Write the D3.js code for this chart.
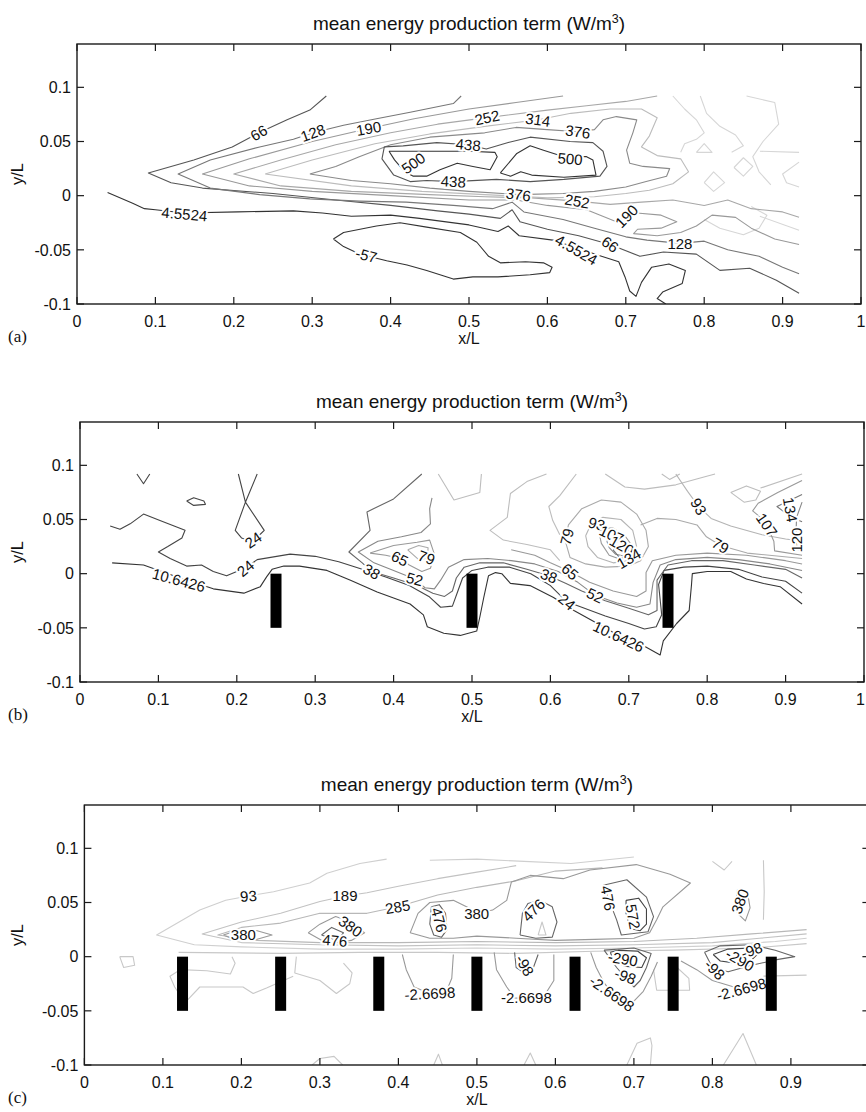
<!DOCTYPE html>
<html><head><meta charset="utf-8">
<script src="https://cdn.jsdelivr.net/npm/d3@7"></script>
<style>body{margin:0;background:#fff}svg{display:block}</style>
</head><body>
<svg id="chart" width="866" height="1112"></svg>
<script>
// ---------------- DATA ----------------
const xTicks = [0,0.1,0.2,0.3,0.4,0.5,0.6,0.7,0.8,0.9,1];
const xTickLabels = ["0","0.1","0.2","0.3","0.4","0.5","0.6","0.7","0.8","0.9","1"];
const yTicks = [-0.1,-0.05,0,0.05,0.1];
const yTickLabels = ["-0.1","-0.05","0","0.05","0.1"];
const xDomain = [0,1];
const yDomain = [-0.1,0.14];
const titleText = "mean energy production term (W/m";
const titleSup = "3";
const titleEnd = ")";
const xLabel = "x/L", yLabel = "y/L";
const panelTags = ["(a)","(b)","(c)"];
const barsB = [0.25,0.5,0.75];
const barsC = [0.125,0.25,0.375,0.5,0.625,0.75,0.875];
const barSpan = [-0.05,0];

// ---- panel (a) contours (x/L, y/L) ----
const aM57 = [[0.327,-0.040],[0.340,-0.034],[0.382,-0.028],[0.412,-0.025],[0.446,-0.029],[0.489,-0.034],[0.510,-0.043],[0.525,-0.056],[0.540,-0.062],[0.572,-0.061],[0.595,-0.062],[0.606,-0.066],[0.603,-0.071],[0.578,-0.073],[0.537,-0.075],[0.505,-0.075],[0.480,-0.077],[0.446,-0.069],[0.421,-0.064],[0.395,-0.060],[0.361,-0.054],[0.340,-0.047],[0.327,-0.040]];
const a455 = [[0.039,0.003],[0.071,-0.007],[0.086,-0.012],[0.10,-0.013],[0.137,-0.016],[0.205,-0.015],[0.276,-0.014],[0.313,-0.016],[0.35,-0.019],[0.40,-0.018],[0.437,-0.021],[0.50,-0.027],[0.537,-0.033],[0.55,-0.028],[0.564,-0.037],[0.607,-0.041],[0.637,-0.048],[0.665,-0.055],[0.691,-0.061],[0.699,-0.075],[0.705,-0.088],[0.713,-0.093],[0.72,-0.08],[0.733,-0.066],[0.755,-0.063],[0.776,-0.069],[0.772,-0.081],[0.747,-0.089],[0.740,-0.095],[0.751,-0.1]];
const a66 = [[0.318,0.092],[0.297,0.079],[0.268,0.070],[0.232,0.058],[0.198,0.045],[0.149,0.033],[0.091,0.021],[0.12,0.012],[0.16,0.007],[0.25,0.002],[0.33,-0.004],[0.40,-0.009],[0.46,-0.014],[0.50,-0.017],[0.54,-0.021],[0.555,-0.013],[0.565,-0.024],[0.60,-0.031],[0.64,-0.037],[0.68,-0.045],[0.718,-0.056],[0.748,-0.052],[0.79,-0.054],[0.82,-0.069],[0.858,-0.067],[0.892,-0.078],[0.921,-0.090]];
const a128 = [[0.49,0.092],[0.48,0.085],[0.425,0.077],[0.382,0.071],[0.340,0.065],[0.301,0.058],[0.276,0.052],[0.233,0.045],[0.170,0.033],[0.129,0.020],[0.170,0.007],[0.233,0.001],[0.297,-0.003],[0.36,-0.005],[0.42,-0.006],[0.48,-0.009],[0.53,-0.012],[0.555,-0.006],[0.57,-0.015],[0.62,-0.022],[0.66,-0.030],[0.70,-0.038],[0.727,-0.041],[0.769,-0.044],[0.80,-0.042],[0.83,-0.050],[0.87,-0.056],[0.90,-0.066],[0.921,-0.072]];
const a190 = [[0.62,0.092],[0.56,0.086],[0.50,0.080],[0.43,0.071],[0.372,0.062],[0.30,0.050],[0.22,0.034],[0.16,0.020],[0.22,0.009],[0.30,0.004],[0.40,0.000],[0.50,-0.004],[0.56,-0.004],[0.60,-0.009],[0.65,-0.013],[0.688,-0.024],[0.701,-0.019],[0.714,-0.016],[0.745,-0.018],[0.765,-0.024],[0.745,-0.030],[0.715,-0.031],[0.71,-0.035],[0.74,-0.037],[0.77,-0.034],[0.79,-0.028],[0.81,-0.018],[0.84,-0.020],[0.86,-0.030],[0.89,-0.040],[0.921,-0.045]];
const a252 = [[0.74,0.092],[0.70,0.087],[0.65,0.083],[0.60,0.079],[0.523,0.072],[0.46,0.066],[0.40,0.058],[0.33,0.047],[0.26,0.033],[0.20,0.020],[0.26,0.009],[0.35,0.004],[0.45,0.001],[0.52,-0.001],[0.58,-0.002],[0.638,-0.005],[0.68,-0.008],[0.72,-0.006],[0.76,-0.004],[0.80,-0.009],[0.83,-0.004],[0.86,-0.012],[0.90,-0.015],[0.921,-0.020]];
const a314 = [[0.24,0.020],[0.30,0.033],[0.38,0.048],[0.45,0.057],[0.52,0.064],[0.588,0.070],[0.63,0.076],[0.68,0.080],[0.72,0.080],[0.74,0.072],[0.73,0.055],[0.72,0.045],[0.74,0.037],[0.77,0.034],[0.78,0.022],[0.76,0.011],[0.73,0.005],[0.70,0.002],[0.66,-0.001],[0.60,-0.002],[0.52,0.001],[0.44,0.004],[0.35,0.009],[0.24,0.020]];
const a376 = [[0.297,0.020],[0.33,0.027],[0.36,0.036],[0.40,0.047],[0.45,0.054],[0.52,0.058],[0.56,0.063],[0.60,0.061],[0.639,0.059],[0.66,0.061],[0.671,0.070],[0.688,0.073],[0.714,0.070],[0.709,0.058],[0.701,0.042],[0.705,0.030],[0.722,0.027],[0.756,0.025],[0.752,0.018],[0.726,0.013],[0.70,0.008],[0.66,0.004],[0.62,0.002],[0.563,0.001],[0.50,0.004],[0.45,0.007],[0.40,0.011],[0.35,0.014],[0.297,0.020]];
const a438 = [[0.392,0.045],[0.416,0.046],[0.459,0.049],[0.499,0.047],[0.522,0.043],[0.550,0.049],[0.578,0.054],[0.629,0.050],[0.658,0.049],[0.671,0.041],[0.676,0.027],[0.667,0.018],[0.621,0.015],[0.578,0.013],[0.535,0.015],[0.48,0.013],[0.446,0.014],[0.425,0.013],[0.404,0.019],[0.389,0.034],[0.392,0.045]];
const a500L = [[0.398,0.041],[0.45,0.041],[0.50,0.041],[0.533,0.040],[0.536,0.036],[0.527,0.024],[0.505,0.027],[0.485,0.030],[0.463,0.024],[0.446,0.018],[0.429,0.018],[0.418,0.022],[0.405,0.033],[0.398,0.041]];
const a500R = [[0.540,0.021],[0.561,0.039],[0.578,0.046],[0.595,0.042],[0.621,0.036],[0.650,0.036],[0.658,0.033],[0.662,0.019],[0.621,0.017],[0.580,0.019],[0.566,0.022],[0.553,0.018],[0.540,0.021]];
const aL1 = [[0.795,0.092],[0.803,0.076],[0.82,0.064],[0.84,0.056],[0.85,0.046],[0.835,0.040]];
const aL2 = [[0.854,0.092],[0.89,0.086],[0.895,0.066],[0.875,0.050],[0.862,0.036],[0.87,0.022],[0.885,0.010]];
const aL3 = [[0.871,0.041],[0.921,0.040]];
const aL4 = [[0.921,0.031],[0.90,0.020],[0.905,0.012],[0.921,0.008]];
const aL5 = [[0.871,-0.019],[0.921,-0.032]];
const aL6 = [[0.80,-0.022],[0.82,-0.030],[0.85,-0.036],[0.87,-0.030],[0.88,-0.018],[0.86,-0.010]];
const aL7 = [[0.80,0.012],[0.812,0.022],[0.826,0.012],[0.812,0.004],[0.80,0.012]];
const aL8 = [[0.838,0.026],[0.85,0.035],[0.862,0.027],[0.85,0.018],[0.838,0.026]];
const aL9 = [[0.79,0.040],[0.80,0.048],[0.81,0.040],[0.79,0.040]];
const aL10 = [[0.76,0.092],[0.775,0.080],[0.79,0.070],[0.80,0.058],[0.79,0.052],[0.775,0.048],[0.77,0.040]];
const panelA = [["-57",aM57],["4.5524",a455],["66",a66],["128",a128],["190",a190],["252",a252],["314",a314],["376",a376],["438",a438],["500",a500L],["500",a500R],
  ["lite",aL1],["lite",aL2],["lite",aL3],["lite",aL4],["lite",aL5],["lite",aL6],["lite",aL7],["lite",aL8],["lite",aL9],["lite",aL10]];
const labelsA = [["66",0.232,0.058],["128",0.301,0.058],["190",0.372,0.062],["252",0.523,0.072],["314",0.588,0.070],["376",0.639,0.059],["438",0.499,0.047],["500",0.429,0.030],["500",0.629,0.034],["438",0.480,0.013],["376",0.563,0.001],["252",0.638,-0.005],["190",0.701,-0.019],["4.5524",0.137,-0.017],["4.5524",0.637,-0.050],["66",0.680,-0.045],["128",0.769,-0.044],["-57",0.369,-0.055]];

// ---- panel (b) contours ----
const b106 = [[0.041,0.010],[0.081,0.008],[0.124,-0.003],[0.17,-0.014],[0.209,-0.018],[0.23,-0.012],[0.238,-0.003],[0.245,0.004],[0.26,0.007],[0.28,0.007],[0.315,0.003],[0.345,-0.006],[0.379,-0.017],[0.421,-0.028],[0.438,-0.038],[0.443,-0.049],[0.464,-0.055],[0.485,-0.057],[0.506,-0.053],[0.510,-0.040],[0.515,-0.022],[0.521,-0.002],[0.53,0.001],[0.538,0.000],[0.549,-0.009],[0.574,-0.011],[0.604,-0.022],[0.63,-0.034],[0.66,-0.046],[0.687,-0.057],[0.72,-0.067],[0.740,-0.075],[0.744,-0.062],[0.761,-0.046],[0.777,-0.034],[0.780,-0.010],[0.781,0.000],[0.80,0.002],[0.83,0.002],[0.85,-0.005],[0.872,-0.009],[0.893,-0.012],[0.921,-0.028]];
const b24 = [[0.0385,0.044],[0.051,0.041],[0.064,0.046],[0.081,0.055],[0.102,0.049],[0.134,0.040],[0.130,0.033],[0.112,0.025],[0.100,0.020],[0.115,0.014],[0.136,0.007],[0.155,0.008],[0.170,0.002],[0.187,-0.002],[0.200,0.002],[0.211,0.005],[0.226,0.013],[0.268,0.018],[0.30,0.016],[0.33,0.011],[0.36,0.004],[0.39,-0.003],[0.42,-0.011],[0.445,-0.021],[0.46,-0.031],[0.475,-0.030],[0.482,-0.016],[0.488,-0.004],[0.50,0.003],[0.52,0.006],[0.548,0.006],[0.575,0.000],[0.60,-0.011],[0.621,-0.026],[0.64,-0.031],[0.67,-0.039],[0.70,-0.046],[0.72,-0.051],[0.735,-0.049],[0.742,-0.038],[0.738,-0.010],[0.745,0.003],[0.77,0.006],[0.80,0.007],[0.84,0.004],[0.87,-0.003],[0.90,-0.007],[0.921,-0.018]];
const b24top = [[0.202,0.092],[0.211,0.066],[0.198,0.040],[0.206,0.033],[0.219,0.030],[0.228,0.035],[0.235,0.040],[0.211,0.066],[0.226,0.092]];
const b24loop = [[0.136,0.067],[0.145,0.070],[0.158,0.067],[0.160,0.064],[0.145,0.063],[0.136,0.067]];
const b24v = [[0.0726,0.092],[0.081,0.083],[0.089,0.092]];
const b38 = [[0.436,0.092],[0.40,0.069],[0.366,0.057],[0.370,0.040],[0.343,0.020],[0.36,0.010],[0.372,0.002],[0.40,-0.004],[0.43,-0.011],[0.45,-0.018],[0.465,-0.021],[0.475,-0.016],[0.48,-0.004],[0.49,0.006],[0.51,0.010],[0.54,0.010],[0.57,0.004],[0.598,-0.002],[0.62,-0.009],[0.64,-0.016],[0.67,-0.025],[0.70,-0.032],[0.725,-0.038],[0.736,-0.034],[0.736,-0.006],[0.75,0.008],[0.78,0.012],[0.82,0.012],[0.86,0.008],[0.90,0.004],[0.921,-0.004]];
const b38u = [[0.457,0.092],[0.477,0.068],[0.510,0.075],[0.512,0.092]];
const b52 = [[0.449,0.070],[0.446,0.060],[0.447,0.046],[0.435,0.038],[0.41,0.034],[0.38,0.030],[0.355,0.020],[0.375,0.010],[0.40,0.003],[0.427,-0.005],[0.44,-0.013],[0.452,-0.014],[0.46,-0.006],[0.47,0.006],[0.49,0.013],[0.52,0.014],[0.55,0.012],[0.58,0.009],[0.61,0.002],[0.635,-0.008],[0.657,-0.020],[0.685,-0.027],[0.71,-0.031],[0.727,-0.028],[0.731,-0.008],[0.74,0.008],[0.76,0.013],[0.80,0.015],[0.84,0.013],[0.88,0.009],[0.921,0.003]];
const b65L = [[0.37,0.019],[0.40,0.026],[0.43,0.029],[0.446,0.031],[0.452,0.018],[0.447,0.005],[0.436,0.002],[0.42,0.008],[0.408,0.014],[0.39,0.017],[0.37,0.019]];
const b79L = [[0.418,0.022],[0.432,0.026],[0.444,0.024],[0.443,0.014],[0.432,0.013],[0.418,0.022]];
const b65R = [[0.55,0.022],[0.58,0.017],[0.60,0.010],[0.625,0.002],[0.65,-0.008],[0.68,-0.016],[0.71,-0.021],[0.722,-0.016],[0.722,0.001],[0.73,0.012],[0.76,0.017],[0.80,0.019],[0.85,0.017],[0.90,0.012],[0.921,0.009]];
const b79 = [[0.619,0.030],[0.623,0.045],[0.64,0.060],[0.665,0.068],[0.69,0.066],[0.71,0.055],[0.722,0.040],[0.725,0.025],[0.715,0.012],[0.70,0.007],[0.67,0.006],[0.645,0.009],[0.625,0.015],[0.619,0.030]];
const b79R = [[0.715,0.045],[0.736,0.051],[0.76,0.050],[0.787,0.045],[0.799,0.034],[0.817,0.026],[0.851,0.019],[0.921,0.014]];
const b93 = [[0.645,0.035],[0.652,0.046],[0.667,0.052],[0.69,0.050],[0.705,0.040],[0.71,0.025],[0.70,0.012],[0.68,0.010],[0.66,0.015],[0.648,0.025],[0.645,0.035]];
const b93R = [[0.76,0.092],[0.775,0.076],[0.789,0.062],[0.805,0.051],[0.83,0.044],[0.87,0.036],[0.90,0.032],[0.921,0.030]];
const b107 = [[0.662,0.038],[0.668,0.042],[0.68,0.042],[0.695,0.035],[0.705,0.025],[0.70,0.015],[0.69,0.013],[0.675,0.017],[0.665,0.028],[0.662,0.038]];
const b120 = [[0.672,0.030],[0.68,0.034],[0.693,0.030],[0.70,0.021],[0.695,0.016],[0.683,0.018],[0.675,0.024],[0.672,0.030]];
const b134 = [[0.68,0.022],[0.69,0.025],[0.70,0.019],[0.697,0.014],[0.688,0.015],[0.68,0.022]];
const b107R = [[0.921,0.086],[0.89,0.075],[0.865,0.065],[0.858,0.058],[0.868,0.052],[0.876,0.045],[0.885,0.030],[0.886,0.021],[0.921,0.017]];
const b134R = [[0.921,0.073],[0.889,0.062],[0.898,0.057],[0.907,0.052],[0.921,0.048]];
const b120R = [[0.921,0.066],[0.914,0.052],[0.913,0.032],[0.915,0.022],[0.921,0.021]];
const bL1 = [[0.595,0.092],[0.570,0.085],[0.549,0.074],[0.545,0.052],[0.523,0.040],[0.54,0.031],[0.57,0.027],[0.60,0.022],[0.612,0.012]];
const bL2 = [[0.633,0.092],[0.612,0.072],[0.598,0.062],[0.603,0.049],[0.612,0.036]];
const bL3 = [[0.742,0.092],[0.752,0.087],[0.765,0.092]];
const bL4 = [[0.67,0.092],[0.695,0.080],[0.72,0.078],[0.76,0.082],[0.79,0.088],[0.81,0.092]];
const bL5 = [[0.83,0.075],[0.85,0.081],[0.868,0.076],[0.862,0.068],[0.847,0.066],[0.83,0.075]];
const bL6 = [[0.868,0.079],[0.921,0.092]];
const panelB = [["10.6426",b106],["24",b24],["24",b24top],["24",b24loop],["24",b24v],["38",b38],["lite",b38u],["52",b52],["65",b65L],["79",b79L],["65",b65R],["79",b79],["79",b79R],["93",b93],["93",b93R],["107",b107],["120",b120],["134",b134],["107",b107R],["134",b134R],["120",b120R],
  ["lite",bL1],["lite",bL2],["lite",bL3],["lite",bL4],["lite",bL5],["lite",bL6]];
const labelsB = [["24",0.221,0.031],["24",0.211,0.005],["10.6426",0.126,-0.006],["38",0.372,0.002],["65",0.408,0.014],["79",0.442,0.015],["52",0.427,-0.005],["38",0.598,-0.002],["65",0.625,0.002],["24",0.621,-0.026],["52",0.657,-0.020],["10.6426",0.687,-0.058],["79",0.621,0.034],["93",0.659,0.046],["107",0.678,0.036],["120",0.691,0.026],["134",0.700,0.014],["93",0.789,0.062],["79",0.817,0.026],["107",0.876,0.045],["134",0.906,0.059],["120",0.914,0.031]];

// ---- panel (c) contours ----
const c93 = [[0.385,0.090],[0.351,0.086],[0.309,0.077],[0.287,0.068],[0.241,0.060],[0.209,0.056],[0.18,0.052],[0.147,0.043],[0.092,0.020],[0.14,0.011],[0.20,0.009],[0.30,0.007],[0.40,0.007],[0.50,0.008],[0.60,0.007],[0.70,0.008],[0.80,0.010],[0.88,0.014],[0.92,0.017]];
const c93b = [[0.44,0.089],[0.50,0.090],[0.56,0.088],[0.62,0.086],[0.66,0.089],[0.70,0.092]];
const c189 = [[0.55,0.084],[0.50,0.078],[0.45,0.072],[0.40,0.065],[0.36,0.059],[0.332,0.056],[0.30,0.051],[0.25,0.040],[0.20,0.032],[0.15,0.021],[0.20,0.013],[0.30,0.011],[0.40,0.010],[0.50,0.011],[0.60,0.010],[0.70,0.011],[0.80,0.013],[0.86,0.017],[0.92,0.021]];
const c285 = [[0.66,0.082],[0.60,0.079],[0.55,0.070],[0.50,0.064],[0.45,0.057],[0.399,0.046],[0.36,0.040],[0.30,0.040],[0.25,0.031],[0.20,0.027],[0.17,0.020],[0.22,0.015],[0.30,0.013],[0.40,0.013],[0.50,0.014],[0.60,0.013],[0.70,0.014],[0.78,0.017],[0.85,0.021],[0.92,0.025]];
const c380a = [[0.177,0.020],[0.19,0.023],[0.22,0.024],[0.239,0.020],[0.22,0.016],[0.19,0.016],[0.177,0.020]];
const c380b = [[0.285,0.022],[0.30,0.030],[0.32,0.037],[0.34,0.032],[0.357,0.022],[0.34,0.015],[0.31,0.012],[0.285,0.022]];
const c476a = [[0.302,0.020],[0.315,0.027],[0.33,0.022],[0.322,0.015],[0.302,0.020]];
const c380c = [[0.415,0.022],[0.425,0.040],[0.44,0.050],[0.47,0.052],[0.49,0.045],[0.50,0.040],[0.52,0.043],[0.538,0.052],[0.544,0.069],[0.568,0.075],[0.610,0.072],[0.644,0.080],[0.703,0.085],[0.746,0.076],[0.772,0.068],[0.737,0.046],[0.729,0.034],[0.720,0.022],[0.70,0.017],[0.65,0.016],[0.60,0.015],[0.55,0.017],[0.50,0.019],[0.47,0.017],[0.44,0.017],[0.415,0.022]];
const c476b = [[0.442,0.046],[0.452,0.048],[0.46,0.040],[0.462,0.025],[0.455,0.018],[0.445,0.020],[0.44,0.030],[0.442,0.046]];
const c476c = [[0.555,0.020],[0.558,0.040],[0.565,0.049],[0.58,0.052],[0.596,0.046],[0.602,0.032],[0.596,0.018],[0.575,0.017],[0.555,0.020]];
const c476t = [[0.578,0.020],[0.583,0.032],[0.588,0.020],[0.578,0.020]];
const c476d = [[0.661,0.066],[0.691,0.071],[0.716,0.055],[0.725,0.037],[0.718,0.023],[0.684,0.020],[0.678,0.034],[0.670,0.049],[0.661,0.066]];
const c572 = [[0.690,0.052],[0.706,0.054],[0.716,0.044],[0.716,0.030],[0.708,0.024],[0.695,0.026],[0.690,0.040],[0.690,0.052]];
const c380d = [[0.832,0.062],[0.845,0.058],[0.848,0.045],[0.842,0.033],[0.832,0.040],[0.830,0.052],[0.832,0.062]];
const cM290a = [[0.670,0.004],[0.68,0.006],[0.705,0.005],[0.716,-0.001],[0.71,-0.010],[0.69,-0.009],[0.675,-0.005],[0.670,0.004]];
const cM98a = [[0.662,0.006],[0.70,0.008],[0.722,0.003],[0.716,-0.010],[0.708,-0.022],[0.70,-0.028],[0.69,-0.020],[0.678,-0.010],[0.662,0.006]];
const cM2a = [[0.645,0.004],[0.652,-0.010],[0.662,-0.024],[0.672,-0.034],[0.686,-0.041],[0.70,-0.041],[0.712,-0.032],[0.722,-0.018],[0.73,-0.005]];
const cM98b = [[0.548,0.004],[0.55,-0.010],[0.56,-0.015],[0.572,-0.010],[0.578,0.002]];
const cM2b = [[0.522,0.004],[0.525,-0.012],[0.538,-0.028],[0.548,-0.038],[0.563,-0.039],[0.585,-0.037],[0.598,-0.022],[0.598,0.002]];
const cM2c = [[0.405,0.002],[0.41,-0.012],[0.42,-0.028],[0.44,-0.034],[0.46,-0.034],[0.468,-0.020],[0.47,0.002]];
const cM290b = [[0.801,0.002],[0.82,0.007],[0.85,0.008],[0.86,0.004],[0.85,-0.003],[0.83,-0.006],[0.81,-0.004],[0.801,0.002]];
const cM98c = [[0.79,0.004],[0.81,0.010],[0.85,0.011],[0.88,0.006],[0.905,0.000],[0.88,-0.003],[0.85,-0.008],[0.82,-0.014],[0.80,-0.010],[0.79,0.004]];
const cM2d = [[0.76,-0.004],[0.78,-0.012],[0.80,-0.022],[0.837,-0.030],[0.86,-0.028],[0.875,-0.020]];
const cL1 = [[0.045,0.000],[0.062,0.000],[0.064,-0.008],[0.05,-0.010],[0.045,0.000]];
const cL2 = [[0.188,0.000],[0.192,-0.006],[0.186,-0.016],[0.156,-0.013],[0.122,-0.012],[0.109,-0.018],[0.115,-0.028],[0.126,-0.040],[0.13,-0.043]];
const cL3 = [[0.130,-0.041],[0.147,-0.028],[0.202,-0.028],[0.215,-0.034],[0.232,-0.029],[0.266,-0.018]];
const cL4 = [[0.270,0.000],[0.268,-0.015],[0.30,-0.022],[0.321,-0.034],[0.338,-0.025],[0.341,-0.015],[0.330,-0.006]];
const cL5 = [[0.725,-0.012],[0.729,-0.031],[0.771,-0.031],[0.770,-0.020],[0.755,-0.010]];
const cL6 = [[0.865,-0.018],[0.920,-0.017]];
const cL7 = [[0.865,0.089],[0.866,0.060],[0.865,0.034]];
const cL8 = [[0.80,0.088],[0.815,0.080],[0.825,0.088]];
const cW1 = [[0.29,-0.100],[0.30,-0.094],[0.318,-0.092],[0.329,-0.100]];
const cW2 = [[0.445,-0.100],[0.451,-0.090],[0.456,-0.100]];
const cW3 = [[0.560,-0.100],[0.568,-0.089],[0.575,-0.100]];
const cW4 = [[0.691,-0.100],[0.704,-0.080],[0.721,-0.075],[0.723,-0.082],[0.721,-0.100]];
const cW5 = [[0.814,-0.100],[0.839,-0.071],[0.856,-0.100]];
const cB1 = [[0.12,0.004],[0.25,0.003],[0.35,0.004],[0.45,0.004],[0.55,0.003],[0.65,0.005],[0.75,0.006],[0.85,0.008],[0.92,0.012]];
const panelC = [["93",c93],["93",c93b],["189",c189],["285",c285],["380",c380a],["380",c380b],["476",c476a],["380",c380c],["476",c476b],["476",c476c],["lite",c476t],["476",c476d],["572",c572],["380",c380d],
  ["-290",cM290a],["-98",cM98a],["-2.6698",cM2a],["-98",cM98b],["-2.6698",cM2b],["-2.6698",cM2c],["-290",cM290b],["-98",cM98c],["-2.6698",cM2d],
  ["lite",cL1],["lite",cL2],["lite",cL3],["lite",cL4],["lite",cL5],["lite",cL6],["lite",cL7],["lite",cL8],["lite",cW1],["lite",cW2],["lite",cW3],["lite",cW4],["lite",cW5],["lite",cB1]];
const labelsC = [["93",0.209,0.056],["189",0.332,0.056],["285",0.399,0.046],["380",0.2025,0.020],["380",0.339,0.028],["476",0.319,0.015],["476",0.452,0.034],["380",0.4997,0.040],["476",0.572,0.043],["476",0.667,0.054],["572",0.699,0.037],["380",0.835,0.051],
  ["-290",0.686,-0.002],["-98",0.689,-0.018],["-2.6698",0.672,-0.034],["-98",0.561,-0.008],["-2.6698",0.563,-0.038],["-2.6698",0.440,-0.034],["-290",0.835,-0.003],["-98",0.803,-0.012],["-98",0.850,0.006],["-2.6698",0.837,-0.030]];

// ---------------- STYLE ----------------
const layout = [
  {left:77,  right:861,   top:44,  bottom:304},
  {left:80,  right:864,   top:422, bottom:682},
  {left:84.4,right:869.4, top:805, bottom:1065}
];
const shades = [
  {"-57":"#333","4.5524":"#333","66":"#555","128":"#777","190":"#999","252":"#a8a8a8","314":"#bcbcbc","376":"#8a8a8a","438":"#555","500":"#333","lite":"#d6d6d6"},
  {"10.6426":"#333","24":"#444","38":"#666","52":"#888","65":"#999","79":"#aaa","93":"#b4b4b4","107":"#999","120":"#888","134":"#777","lite":"#bdbdbd"},
  {"93":"#cfcfcf","189":"#c2c2c2","285":"#b8b8b8","380":"#999","476":"#666","572":"#444","-290":"#444","-98":"#666","-2.6698":"#999","lite":"#c8c8c8"}
];
const tiltA = [-30,-20,-10,-12,8,8,5,-35,5,3,8,10,-45,5,30,35,0,15];
const tiltB = [-35,-40,15,30,25,20,15,20,40,40,25,25,-75,15,25,30,-30,60,30,55,80,-90];
const tiltC = [-5,0,-10,0,35,5,75,0,-45,80,80,-70,10,20,35,60,0,-3,30,45,-20,-15];
const FONT = "'Liberation Sans', Arial, Helvetica, sans-serif";
const W = 866;

const svg = d3.select("#chart");
const panels = [
  {lines:panelA, labels:labelsA, tilt:tiltA, bars:[]},
  {lines:panelB, labels:labelsB, tilt:tiltB, bars:barsB},
  {lines:panelC, labels:labelsC, tilt:tiltC, bars:barsC}
];

panels.forEach((p, i) => {
  const L = layout[i];
  const xs = d3.scaleLinear().domain(xDomain).range([L.left, L.right]);
  const ys = d3.scaleLinear().domain(yDomain).range([L.bottom, L.top]);
  const g = svg.append("g");
  const clipId = "clip" + i;
  svg.append("clipPath").attr("id", clipId).append("rect")
    .attr("x", L.left).attr("y", L.top).attr("width", L.right - L.left).attr("height", L.bottom - L.top);
  const plot = g.append("g").attr("clip-path", `url(#${clipId})`);
  const line = d3.line().x(d => xs(d[0])).y(d => ys(d[1]));
  const order = p.lines.slice().sort((a, b) => (a[0] === "lite" ? 0 : 1) - (b[0] === "lite" ? 0 : 1));
  plot.selectAll("path.ct").data(order).enter().append("path")
    .attr("class", "ct")
    .attr("d", d => line(d[1]))
    .attr("fill", "none")
    .attr("stroke", d => shades[i][d[0]])
    .attr("stroke-width", 1.1)
    .attr("stroke-linejoin", "round");
  plot.selectAll("text.cl").data(p.labels).enter().append("text")
    .attr("class", "cl")
    .attr("transform", (d, k) => `translate(${xs(d[1])},${ys(d[2])}) rotate(${p.tilt[k]})`)
    .attr("text-anchor", "middle")
    .attr("dy", "0.36em")
    .attr("font-family", FONT)
    .attr("font-size", 15)
    .attr("fill", "#111")
    .attr("stroke", "#fff")
    .attr("stroke-width", 4)
    .attr("paint-order", "stroke")
    .text(d => d[0]);
  plot.selectAll("rect.bar").data(p.bars).enter().append("rect")
    .attr("class", "bar")
    .attr("x", d => xs(d) - 5.5)
    .attr("width", 11)
    .attr("y", ys(barSpan[1]))
    .attr("height", ys(barSpan[0]) - ys(barSpan[1]))
    .attr("fill", "#000");

  g.append("rect").attr("x", L.left).attr("y", L.top)
    .attr("width", L.right - L.left).attr("height", L.bottom - L.top)
    .attr("fill", "none").attr("stroke", "#1a1a1a").attr("stroke-width", 1.4);
  const tl = 7;
  xTicks.forEach((t, k) => {
    const x = xs(t);
    g.append("line").attr("x1", x).attr("x2", x).attr("y1", L.bottom).attr("y2", L.bottom - tl).attr("stroke", "#1a1a1a").attr("stroke-width", 1.2);
    g.append("line").attr("x1", x).attr("x2", x).attr("y1", L.top).attr("y2", L.top + tl).attr("stroke", "#1a1a1a").attr("stroke-width", 1.2);
    if (x > W + 2) return; // label lies beyond the page edge
    const over = x + 5 > W;
    g.append("text").attr("x", over ? W - 1 : x).attr("y", L.bottom + 23).attr("text-anchor", over ? "end" : "middle")
      .attr("font-family", FONT).attr("font-size", 16).attr("fill", "#111").text(xTickLabels[k]);
  });
  yTicks.forEach((t, k) => {
    const y = ys(t);
    g.append("line").attr("x1", L.left).attr("x2", L.left + tl).attr("y1", y).attr("y2", y).attr("stroke", "#1a1a1a").attr("stroke-width", 1.2);
    g.append("line").attr("x1", L.right).attr("x2", L.right - tl).attr("y1", y).attr("y2", y).attr("stroke", "#1a1a1a").attr("stroke-width", 1.2);
    g.append("text").attr("x", L.left - 6).attr("y", y).attr("dy", "0.36em").attr("text-anchor", "end")
      .attr("font-family", FONT).attr("font-size", 16).attr("fill", "#111").text(yTickLabels[k]);
  });
  const cx = (L.left + L.right) / 2;
  const tt = g.append("text").attr("x", cx).attr("y", L.top - 14).attr("text-anchor", "middle")
    .attr("font-family", FONT).attr("font-size", 19).attr("fill", "#111");
  tt.append("tspan").text(titleText);
  tt.append("tspan").attr("font-size", 12.5).attr("dy", -7).text(titleSup);
  tt.append("tspan").attr("dy", 7).text(titleEnd);
  g.append("text").attr("x", cx).attr("y", L.bottom + 40).attr("text-anchor", "middle")
    .attr("font-family", FONT).attr("font-size", 16).attr("fill", "#111").text(xLabel);
  g.append("text").attr("transform", `translate(23,${(L.top + L.bottom) / 2}) rotate(-90)`).attr("text-anchor", "middle")
    .attr("font-family", FONT).attr("font-size", 16.5).attr("fill", "#111").text(yLabel);
  g.append("text").attr("x", 8).attr("y", L.bottom + 38)
    .attr("font-family", "'Liberation Serif', 'Times New Roman', serif").attr("font-size", 17).attr("fill", "#111").text(panelTags[i]);
});
</script>
</body></html>
